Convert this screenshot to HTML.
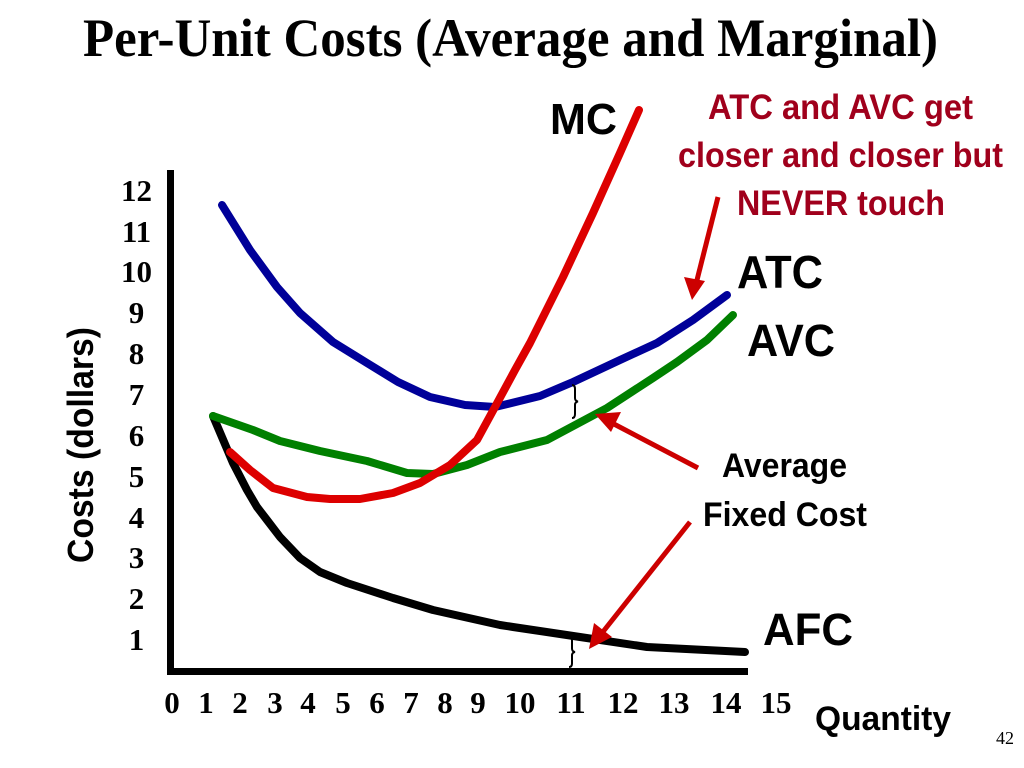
<!DOCTYPE html>
<html>
<head>
<meta charset="utf-8">
<style>
html,body{margin:0;padding:0;background:#fff;}
svg{display:block;}
</style>
</head>
<body>
<svg width="1024" height="768" viewBox="0 0 1024 768" xmlns="http://www.w3.org/2000/svg">
<rect width="1024" height="768" fill="#fff"/>

<!-- Title -->
<text x="83" y="56" font-family="Liberation Serif, serif" font-weight="bold" font-size="54" textLength="855" lengthAdjust="spacingAndGlyphs" fill="#000">Per-Unit Costs (Average and Marginal)</text>

<!-- Axes -->
<rect x="167" y="170" width="7" height="505" fill="#000"/>
<rect x="167" y="668" width="581" height="7" fill="#000"/>

<!-- Y tick labels -->
<g font-family="Liberation Serif, serif" font-weight="bold" font-size="31" text-anchor="middle" fill="#000">
<text x="136.5" y="201">12</text>
<text x="136.5" y="242">11</text>
<text x="136.5" y="282">10</text>
<text x="136.5" y="323">9</text>
<text x="136.5" y="364">8</text>
<text x="136.5" y="405">7</text>
<text x="136.5" y="446">6</text>
<text x="136.5" y="487">5</text>
<text x="136.5" y="528">4</text>
<text x="136.5" y="568">3</text>
<text x="136.5" y="609">2</text>
<text x="136.5" y="650">1</text>
</g>

<!-- X tick labels -->
<g font-family="Liberation Serif, serif" font-weight="bold" font-size="31" text-anchor="middle" fill="#000">
<text x="172" y="713">0</text>
<text x="206" y="713">1</text>
<text x="240" y="713">2</text>
<text x="275" y="713">3</text>
<text x="308" y="713">4</text>
<text x="343" y="713">5</text>
<text x="377" y="713">6</text>
<text x="411" y="713">7</text>
<text x="445" y="713">8</text>
<text x="478" y="713">9</text>
<text x="520" y="713">10</text>
<text x="571" y="713">11</text>
<text x="623" y="713">12</text>
<text x="674" y="713">13</text>
<text x="726" y="713">14</text>
<text x="776" y="713">15</text>
</g>

<!-- Y axis label -->
<text transform="translate(93,563) rotate(-90)" font-family="Liberation Sans, Arial, sans-serif" font-weight="bold" font-size="36" textLength="236" lengthAdjust="spacingAndGlyphs" fill="#000">Costs (dollars)</text>

<!-- Curves -->
<g fill="none" stroke-width="8" stroke-linejoin="round" stroke-linecap="round">
<polyline stroke="#000" points="213,416 233,463 247,490 257,507 267,520 280,537 300,558 320,572 347,583 393,598 433,610 500,625 513,627 580,637 647,647 745,652"/>
<polyline stroke="#008000" points="213,416 253,430 280,441 320,451 367,461 407,473 433,474 467,465 500,452 547,440 607,408 653,378 677,362 707,340 733,315"/>
<polyline stroke="#000099" points="222,205 250,250 277,287 300,313 333,342 367,363 398,382 430,397 465,405 495,407 540,396 573,382 620,360 657,343 693,320 727,295"/>
<polyline stroke="#dd0000" points="230,452 250,470 273,488 307,497 330,499 360,499 393,493 420,483 450,465 477,440 495,407 515,370 530,343 563,277 593,213 620,153 639,110"/>
</g>

<!-- Braces -->
<g fill="none" stroke="#000" stroke-width="2">
<path d="M572,385 q3,0 3,4 v9 q0,3 3,3.5 q-3,0.5 -3,3.5 v9 q0,4 -3,4"/>
<path d="M569,637 q3,0 3,3.5 v8 q0,3 3,3.5 q-3,0.5 -3,3.5 v8 q0,3.5 -3,3.5"/>
</g>

<!-- Arrows -->
<g stroke="#cc0000" stroke-width="5" stroke-linecap="butt" fill="none">
<line x1="698" y1="468" x2="612" y2="423"/>
<line x1="690" y1="522" x2="602" y2="633"/>
<line x1="718" y1="197" x2="697" y2="280"/>
</g>
<g fill="#cc0000">
<polygon points="595,414 621,412 611,432"/>
<polygon points="589,649 594,623 612,637"/>
<polygon points="692,300 684,277 705,281"/>
</g>

<!-- Labels -->
<g font-family="Liberation Sans, Arial, sans-serif" font-weight="bold" fill="#000">
<text x="550" y="134" font-size="44" textLength="67" lengthAdjust="spacingAndGlyphs">MC</text>
<text x="737" y="288" font-size="46" textLength="86" lengthAdjust="spacingAndGlyphs">ATC</text>
<text x="747" y="356" font-size="45" textLength="88" lengthAdjust="spacingAndGlyphs">AVC</text>
<text x="763" y="645" font-size="45" textLength="90" lengthAdjust="spacingAndGlyphs">AFC</text>
<text x="722" y="477" font-size="34" textLength="125" lengthAdjust="spacingAndGlyphs">Average</text>
<text x="703" y="526" font-size="34" textLength="164" lengthAdjust="spacingAndGlyphs">Fixed Cost</text>
<text x="815" y="730" font-size="34" textLength="136" lengthAdjust="spacingAndGlyphs">Quantity</text>
</g>

<!-- Red annotation -->
<g font-family="Liberation Sans, Arial, sans-serif" font-weight="bold" font-size="35" fill="#a0001c" text-anchor="middle">
<text x="840.5" y="119" textLength="265" lengthAdjust="spacingAndGlyphs">ATC and AVC get</text>
<text x="840.5" y="167" textLength="325" lengthAdjust="spacingAndGlyphs">closer and closer but</text>
<text x="841" y="215" textLength="208" lengthAdjust="spacingAndGlyphs">NEVER touch</text>
</g>

<!-- Page number -->
<text x="996" y="744" font-family="Liberation Serif, serif" font-size="18" fill="#000">42</text>
</svg>
</body>
</html>
